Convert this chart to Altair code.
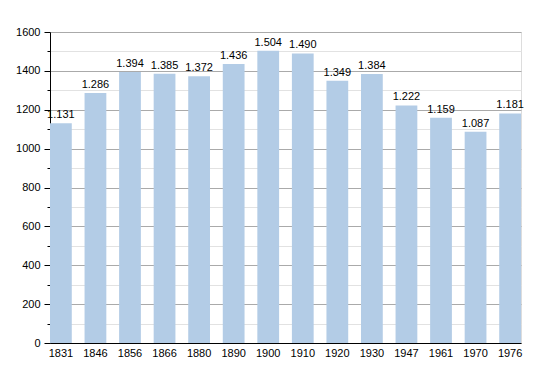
import altair as alt
import pandas as pd

years = ["1831", "1846", "1856", "1866", "1880", "1890", "1900", "1910", "1920", "1930", "1947", "1961", "1970", "1976"]
population = [1131, 1286, 1394, 1385, 1372, 1436, 1504, 1490, 1349, 1384, 1222, 1159, 1087, 1181]
labels = ["1.131", "1.286", "1.394", "1.385", "1.372", "1.436", "1.504", "1.490", "1.349", "1.384", "1.222", "1.159", "1.087", "1.181"]
y_ticks = list(range(0, 1601, 100))

df = pd.DataFrame({"year": years, "pop": population, "label": labels})

FONT = "Liberation Sans"

x = alt.X("year:N", sort=years, title=None,
          scale=alt.Scale(paddingInner=0.37, paddingOuter=0),
          axis=alt.Axis(labelAngle=0, ticks=False, domainColor="black", labelFont=FONT,
                        labelFontSize=11, labelColor="black", labelPadding=4, grid=False))
y = alt.Y("pop:Q", title=None, scale=alt.Scale(domain=[0, 1600], nice=False),
          axis=alt.Axis(values=y_ticks, domainColor="black",
                        labelExpr="datum.value % 200 == 0 ? datum.label : ''",
                        labelOverlap=False,
                        labelFont=FONT, labelFontSize=11, labelColor="black",
                        tickColor="black",
                        tickSize=alt.condition("datum.value % 200 == 0", alt.value(6), alt.value(3)),
                        grid=True,
                        gridColor=alt.condition("datum.value % 200 == 0", alt.value("#aaaaaa"), alt.value("#e2e2e2")),
                        format="d", labelPadding=4))

base = alt.Chart(df).encode(x=x, y=y)
bars = base.mark_bar(color="#b3cce6")
text = base.mark_text(dy=-8, font=FONT, fontSize=11, color="black").encode(text="label:N")

chart = alt.layer(bars, text).properties(
    width=471, height=311,
    autosize=alt.AutoSizeParams(type="none"),
    padding={"left": 42, "top": 24, "right": 20, "bottom": 22},
).configure_view(stroke=None).configure(background="white")

chart.save("out.html", embed_options={"renderer": "svg", "actions": False})
